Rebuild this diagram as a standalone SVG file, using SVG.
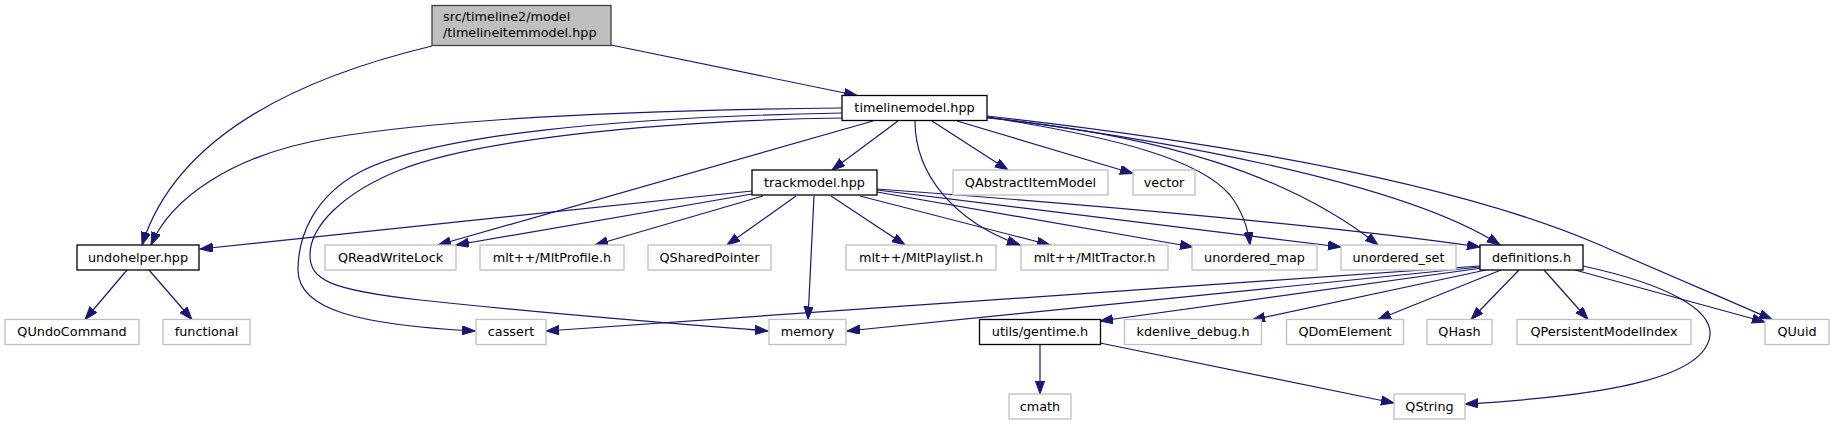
<svg xmlns="http://www.w3.org/2000/svg" width="1834" height="425" viewBox="0 0 1834 425">
<style>
.n rect{fill:#fff;stroke:#000;stroke-width:1.3}
.g rect{fill:#fff;stroke:#bfbfbf;stroke-width:1.3}
.r rect{fill:#bfbfbf;stroke:#404040;stroke-width:1.3}
text{font-family:"DejaVu Sans","Liberation Sans",sans-serif;font-size:12.8px;fill:#000;text-anchor:middle}
.r text{text-anchor:start}
#edges path{fill:none;stroke:#191970;stroke-width:1.2;marker-end:url(#ah)}
</style>
<defs>
<marker id="ah" markerUnits="userSpaceOnUse" markerWidth="14" markerHeight="10" refX="13" refY="4.6" orient="auto">
<path d="M0,0 L13,4.6 L0,9.2 z" fill="#191970" stroke="#191970" stroke-width="1"/>
</marker>
</defs>
<rect width="1834" height="425" fill="#fff"/>
<g id="edges">
<path d="M611,45 L857,95.5"/>
<path d="M432,46 C290,80 175,140 142,245"/>
<path d="M842,108 C650,110 450,118 330,138 C230,155 170,200 151,245"/>
<path d="M842,113 C620,117 430,135 360,172 C315,196 298,235 298,270 C298,310 360,325 475,331"/>
<path d="M842,118 C640,121 470,142 400,170 C345,192 310,225 310,255 C310,280 330,290 420,300 C560,315 680,324 768,331"/>
<path d="M898,121 L832,170"/>
<path d="M873,121 L438,245"/>
<path d="M915,121 C915,175 955,222 1020,245"/>
<path d="M932,121 L1008,170"/>
<path d="M957,121 L1133,173.5"/>
<path d="M987,117 C1120,138 1200,160 1230,195 C1243,212 1248,228 1250,245"/>
<path d="M987,118 C1160,135 1290,175 1378,245"/>
<path d="M987,117 C1150,138 1400,180 1500,245"/>
<path d="M987,116 C1200,140 1450,180 1600,245 C1680,280 1740,305 1772,319.5"/>
<path d="M752,191 L200,249"/>
<path d="M752,194 L456,245"/>
<path d="M763,196 L595,245"/>
<path d="M796,196 L727,245"/>
<path d="M814,196 L808,319.5"/>
<path d="M831,196 L905,245"/>
<path d="M860,196 L1050,245"/>
<path d="M877,192 L1193,247"/>
<path d="M877,190 L1341,247"/>
<path d="M877,189 C1100,205 1350,228 1480,247"/>
<path d="M1480,266 L546,331"/>
<path d="M1480,267 L847,331"/>
<path d="M1482,268 L1100,321"/>
<path d="M1486,270 L1252,320"/>
<path d="M1501,270 L1378,319.5"/>
<path d="M1519,270 L1471,319.5"/>
<path d="M1544,270 L1588,319.5"/>
<path d="M1575,270 L1765,322"/>
<path d="M1583,266 C1670,285 1712,310 1710,335 C1706,375 1620,395 1465,404"/>
<path d="M1040,344.5 L1040,394"/>
<path d="M1100,343 L1394,403"/>
<path d="M127,270 L85,319.5"/>
<path d="M149,270 L192,319.5"/>
</g>
<g id="root" class="r"><rect x="432" y="5.5" width="179" height="40"/><text x="443" y="21">src/timeline2/model</text><text x="443" y="37">/timelineitemmodel.hpp</text></g>
<g id="timelinemodel" class="n"><rect x="842" y="95.5" width="145" height="25"/><text x="914.5" y="112">timelinemodel.hpp</text></g>
<g id="trackmodel" class="n"><rect x="752" y="170" width="125" height="25"/><text x="814.5" y="186.5">trackmodel.hpp</text></g>
<g id="qabstractitemmodel" class="g"><rect x="953" y="170" width="155" height="25"/><text x="1030.5" y="186.5">QAbstractItemModel</text></g>
<g id="vector" class="g"><rect x="1133" y="170" width="62" height="25"/><text x="1164" y="186.5">vector</text></g>
<g id="undohelper" class="n"><rect x="77" y="245" width="122" height="25"/><text x="138" y="261.5">undohelper.hpp</text></g>
<g id="qreadwritelock" class="g"><rect x="325" y="245" width="131" height="25"/><text x="390.5" y="261.5">QReadWriteLock</text></g>
<g id="mltprofile" class="g"><rect x="480" y="245" width="144" height="25"/><text x="552" y="261.5">mlt++/MltProfile.h</text></g>
<g id="qsharedpointer" class="g"><rect x="648" y="245" width="123" height="25"/><text x="709.5" y="261.5">QSharedPointer</text></g>
<g id="mltplaylist" class="g"><rect x="846" y="245" width="150" height="25"/><text x="921" y="261.5">mlt++/MltPlaylist.h</text></g>
<g id="mlttractor" class="g"><rect x="1021" y="245" width="147" height="25"/><text x="1094.5" y="261.5">mlt++/MltTractor.h</text></g>
<g id="unordered_map" class="g"><rect x="1192" y="245" width="125" height="25"/><text x="1254.5" y="261.5">unordered_map</text></g>
<g id="unordered_set" class="g"><rect x="1341" y="245" width="115" height="25"/><text x="1398.5" y="261.5">unordered_set</text></g>
<g id="definitions" class="n"><rect x="1480" y="245" width="103" height="25"/><text x="1531.5" y="261.5">definitions.h</text></g>
<g id="qundocommand" class="g"><rect x="5" y="319.5" width="134" height="25"/><text x="72" y="336">QUndoCommand</text></g>
<g id="functional" class="g"><rect x="163" y="319.5" width="87" height="25"/><text x="206.5" y="336">functional</text></g>
<g id="cassert" class="g"><rect x="476" y="319.5" width="70" height="25"/><text x="511" y="336">cassert</text></g>
<g id="memory" class="g"><rect x="769" y="319.5" width="77" height="25"/><text x="807.5" y="336">memory</text></g>
<g id="gentime" class="n"><rect x="979.5" y="319.5" width="121" height="25"/><text x="1040" y="336">utils/gentime.h</text></g>
<g id="kdenlive_debug" class="g"><rect x="1124.5" y="319.5" width="137" height="25"/><text x="1193" y="336">kdenlive_debug.h</text></g>
<g id="qdomelement" class="g"><rect x="1286.5" y="319.5" width="117" height="25"/><text x="1345" y="336">QDomElement</text></g>
<g id="qhash" class="g"><rect x="1427" y="319.5" width="65" height="25"/><text x="1459.5" y="336">QHash</text></g>
<g id="qpersistentmodelindex" class="g"><rect x="1517" y="319.5" width="174" height="25"/><text x="1604" y="336">QPersistentModelIndex</text></g>
<g id="quuid" class="g"><rect x="1765" y="319.5" width="64" height="25"/><text x="1797" y="336">QUuid</text></g>
<g id="cmath" class="g"><rect x="1009" y="394" width="62" height="25"/><text x="1040" y="410.5">cmath</text></g>
<g id="qstring" class="g"><rect x="1394" y="394" width="71" height="25"/><text x="1429.5" y="410.5">QString</text></g>
</svg>
